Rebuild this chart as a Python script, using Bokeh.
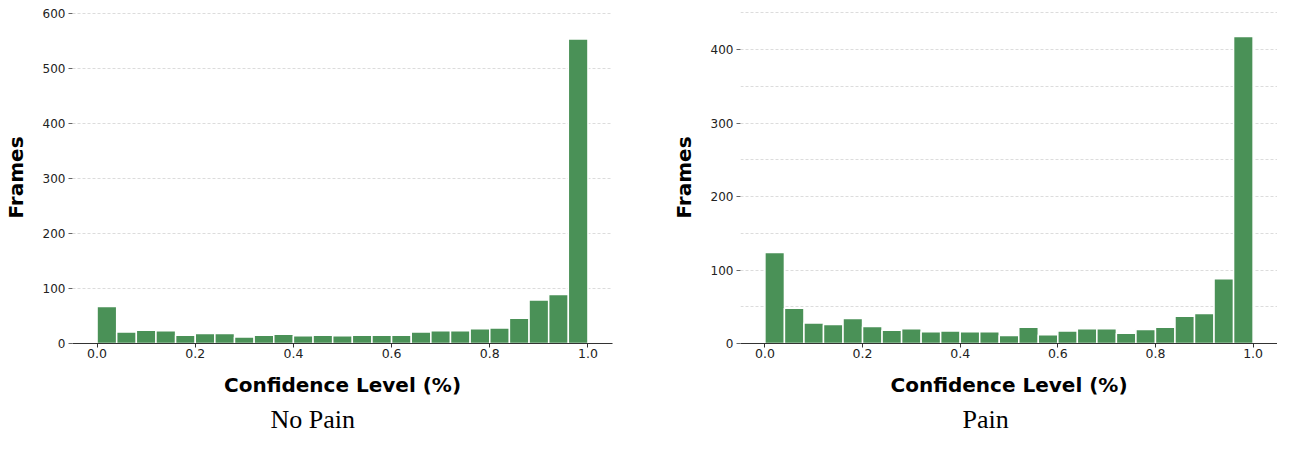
import numpy as np
from bokeh.plotting import figure
from bokeh.layouts import row
from bokeh.models import SingleIntervalTicker, FixedTicker, PrintfTickFormatter
from bokeh.embed import file_html
from bokeh.resources import INLINE

# ---- data ----
n_bins = 25
no_pain_counts = [67, 21, 24, 23, 15, 18, 18, 12, 15, 17, 14, 15, 14,
                  15, 15, 15, 21, 23, 23, 27, 28, 46, 79, 89, 553]
pain_counts = [124, 48, 28, 26, 34, 23, 18, 20, 16, 17, 16, 16, 11,
               22, 12, 17, 20, 20, 14, 19, 22, 37, 41, 88, 418]
x_tick_values = [0.0, 0.2, 0.4, 0.6, 0.8, 1.0]
x_label = "Confidence Level (%)"
y_label = "Frames"
captions = ["No Pain", "Pain"]

BAR = "#4a9157"
TICK_FONT = "DejaVu Sans"
H = 437
FRAME_H = 340


def make(counts, ymax, grid_step, width, bl, br, bt, caption, cap_offset):
    edges = np.linspace(0.0, 1.0, n_bins + 1)
    bb = H - bt - FRAME_H
    p = figure(width=width, height=H, x_range=(-0.05, 1.05), y_range=(0, ymax),
               output_backend="svg", toolbar_location=None,
               min_border_left=bl, min_border_right=br,
               min_border_top=bt, min_border_bottom=bb,
               title=caption, title_location="below")
    p.outline_line_color = None
    p.background_fill_color = "white"
    p.border_fill_color = "white"
    p.quad(left=edges[:-1], right=edges[1:], bottom=0, top=counts,
           fill_color=BAR, line_color="white", line_width=1.5)

    p.title.text_font = "Liberation Serif"
    p.title.text_font_style = "normal"
    p.title.text_font_size = "26px"
    p.title.text_color = "black"
    p.title.align = "left"
    p.title.offset = cap_offset
    p.title.standoff = 7

    p.xgrid.visible = False
    p.ygrid.ticker = SingleIntervalTicker(interval=grid_step)
    p.ygrid.grid_line_color = "#dcdcdc"
    p.ygrid.grid_line_dash = "3 2"
    p.ygrid.grid_line_width = 1

    xa = p.xaxis[0]
    xa.ticker = FixedTicker(ticks=x_tick_values)
    xa.formatter = PrintfTickFormatter(format="%.1f")
    xa.axis_line_color = "#333333"
    xa.axis_line_width = 1.2
    xa.major_tick_line_color = "#333333"
    xa.major_tick_out = 4
    xa.major_tick_in = 0
    xa.minor_tick_line_color = None
    xa.major_label_standoff = 1
    xa.major_label_text_font = TICK_FONT
    xa.major_label_text_font_size = "12.5px"
    xa.major_label_text_color = "#222222"
    xa.axis_label = x_label
    xa.axis_label_text_font = "DejaVu Sans"
    xa.axis_label_text_font_style = "bold"
    xa.axis_label_text_font_size = "20px"
    xa.axis_label_text_color = "black"
    xa.axis_label_standoff = 12

    ya = p.yaxis[0]
    ya.ticker = SingleIntervalTicker(interval=100)
    ya.axis_line_color = None
    ya.major_tick_line_color = "#666666"
    ya.major_tick_out = 4
    ya.major_tick_in = 0
    ya.minor_tick_line_color = None
    ya.major_label_standoff = 3
    ya.major_label_text_font = TICK_FONT
    ya.major_label_text_font_size = "12px"
    ya.major_label_text_color = "#222222"
    ya.axis_label = y_label
    ya.axis_label_text_font = "DejaVu Sans"
    ya.axis_label_text_font_style = "bold"
    ya.axis_label_text_font_size = "20px"
    ya.axis_label_text_color = "black"
    ya.axis_label_standoff = 12
    return p


left = make(no_pain_counts, 603, 100, 668, 67, 56, 8, captions[0], 198)
right = make(pain_counts, 452, 50, 609, 67, 0, 11, captions[1], 222)

layout = row(left, right)
open("out.html", "w").write(file_html(layout, INLINE))
